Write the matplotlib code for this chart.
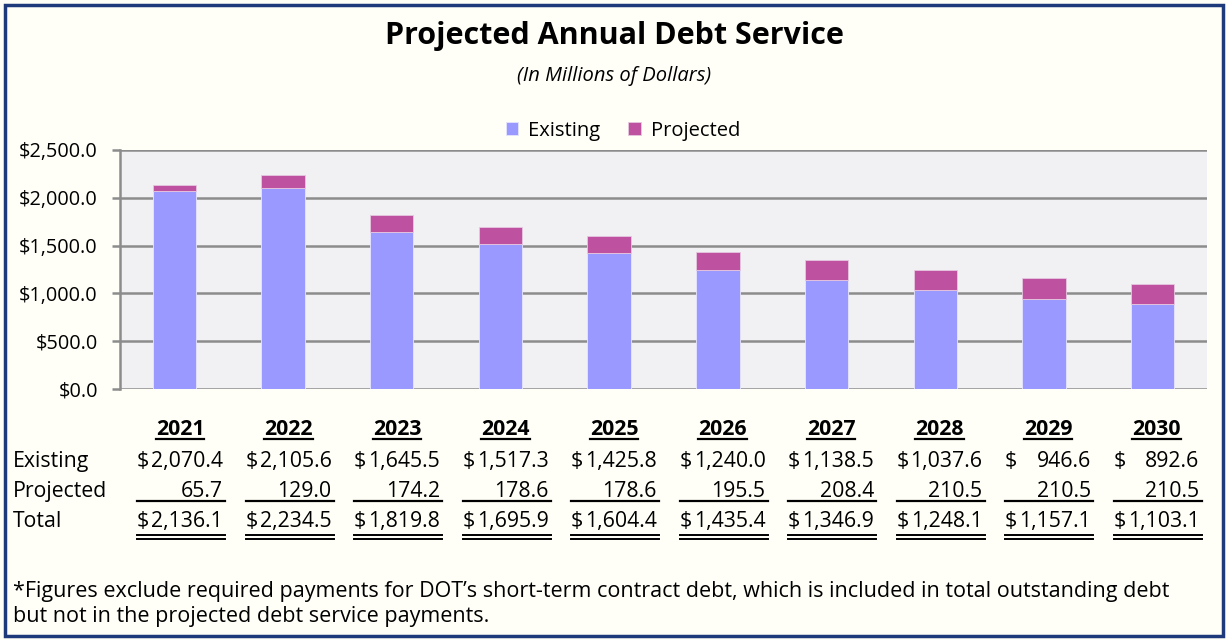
import matplotlib
matplotlib.use("Agg")
import matplotlib.pyplot as plt
import numpy as np
from matplotlib.lines import Line2D
from matplotlib.patches import Rectangle
from matplotlib.ticker import FuncFormatter

years = ["2021", "2022", "2023", "2024", "2025", "2026", "2027", "2028", "2029", "2030"]
existing = [2070.4, 2105.6, 1645.5, 1517.3, 1425.8, 1240.0, 1138.5, 1037.6, 946.6, 892.6]
projected = [65.7, 129.0, 174.2, 178.6, 178.6, 195.5, 208.4, 210.5, 210.5, 210.5]
totals = [2136.1, 2234.5, 1819.8, 1695.9, 1604.4, 1435.4, 1346.9, 1248.1, 1157.1, 1103.1]

c_exist = "#9999FF"
c_proj = "#BE52A0"
bg = "#FFFFF8"

plt.rcParams["font.family"] = ["Open Sans", "DejaVu Sans"]

W, H = 1228, 640
fig = plt.figure(figsize=(W / 100, H / 100), dpi=100, facecolor=bg)

def fx(px):
    return px / W

def fy(py):
    return 1 - py / H

# outer frame
fig.patches.append(Rectangle((fx(5), fy(636)), fx(1218), 631 / H, transform=fig.transFigure,
                             fill=False, edgecolor="#1F3A7A", linewidth=2.5))

ax = fig.add_axes([fx(120), fy(389), fx(1207 - 120), (389 - 150) / H])
ax.set_facecolor("#F1F1F3")
x = np.arange(len(years))
ax.bar(x, existing, 0.4, color=c_exist, edgecolor="#E6E6FF", linewidth=0.6, label="Existing", zorder=3)
ax.bar(x, projected, 0.4, bottom=existing, color=c_proj, edgecolor="#E6C8E0", linewidth=0.6,
       label="Projected", zorder=3)
ax.set_xlim(-0.5, len(years) - 0.5)
ax.set_ylim(0, 2500)
ax.set_yticks(np.arange(0, 2501, 500))
ax.yaxis.set_major_formatter(FuncFormatter(lambda v, p: "${:,.1f}".format(v)))
ax.set_xticks([])
ax.grid(axis="y", color="#8C8C8C", linewidth=1.8, zorder=1)
for s in ["top", "right", "bottom"]:
    ax.spines[s].set_visible(False)
ax.spines["left"].set_color("#8C8C8C")
ax.spines["left"].set_linewidth(1.8)
ax.tick_params(axis="y", length=6, width=1.8, color="#8C8C8C", labelsize=14.3, pad=10)

ax.legend(loc="lower center", bbox_to_anchor=(0.4627, 1.0), ncol=2, frameon=False, fontsize=14.5,
          handlelength=0.6, handleheight=0.6, columnspacing=1.4, handletextpad=0.5,
          borderaxespad=0.05)

fig.text(0.5, fy(36), "Projected Annual Debt Service", ha="center", va="center",
         fontsize=22, fontweight="bold")
fig.text(0.5, fy(76), "(In Millions of Dollars)", ha="center", va="center",
         fontsize=14.5, style="italic")

# table below the chart
col_w = 108.5
fs = 15.3
row_y = {"Existing": 467, "Projected": 497, "Total": 527}
for name, py in row_y.items():
    fig.text(fx(13), fy(py), name, ha="left", va="baseline", fontsize=fs)

fig.canvas.draw()
renderer = fig.canvas.get_renderer()

for k, yr in enumerate(years):
    left = 137 + k * col_w
    right = 223 + k * col_w
    t = fig.text(fx((left + right) / 2), fy(435), yr, ha="center", va="baseline",
                 fontsize=fs, fontweight="bold")
    bb = t.get_window_extent(renderer)
    fig.lines.append(Line2D([bb.x0 / W, bb.x1 / W], [fy(438.5), fy(438.5)],
                            transform=fig.transFigure, color="black", linewidth=1.6))
    fig.text(fx(left), fy(row_y["Existing"]), "$", ha="left", va="baseline", fontsize=fs)
    fig.text(fx(right), fy(row_y["Existing"]), "{:,.1f}".format(existing[k]), ha="right",
             va="baseline", fontsize=fs)
    fig.text(fx(right), fy(row_y["Projected"]), "{:,.1f}".format(projected[k]), ha="right",
             va="baseline", fontsize=fs)
    fig.text(fx(left), fy(row_y["Total"]), "$", ha="left", va="baseline", fontsize=fs)
    fig.text(fx(right), fy(row_y["Total"]), "{:,.1f}".format(totals[k]), ha="right",
             va="baseline", fontsize=fs)
    fig.lines.append(Line2D([fx(left), fx(right + 2)], [fy(501), fy(501)], transform=fig.transFigure,
                            color="black", linewidth=1.6))
    for ly in (535, 539):
        fig.lines.append(Line2D([fx(left), fx(right + 2)], [fy(ly), fy(ly)],
                                transform=fig.transFigure, color="black", linewidth=1.4))

fig.text(fx(13), fy(597), "*Figures exclude required payments for DOT\u2019s short-term contract debt, "
         "which is included in total outstanding debt", ha="left", va="baseline", fontsize=15.5)
fig.text(fx(13), fy(622), "but not in the projected debt service payments.", ha="left",
         va="baseline", fontsize=15.5)

fig.savefig("out.png", dpi=100, facecolor=bg)
